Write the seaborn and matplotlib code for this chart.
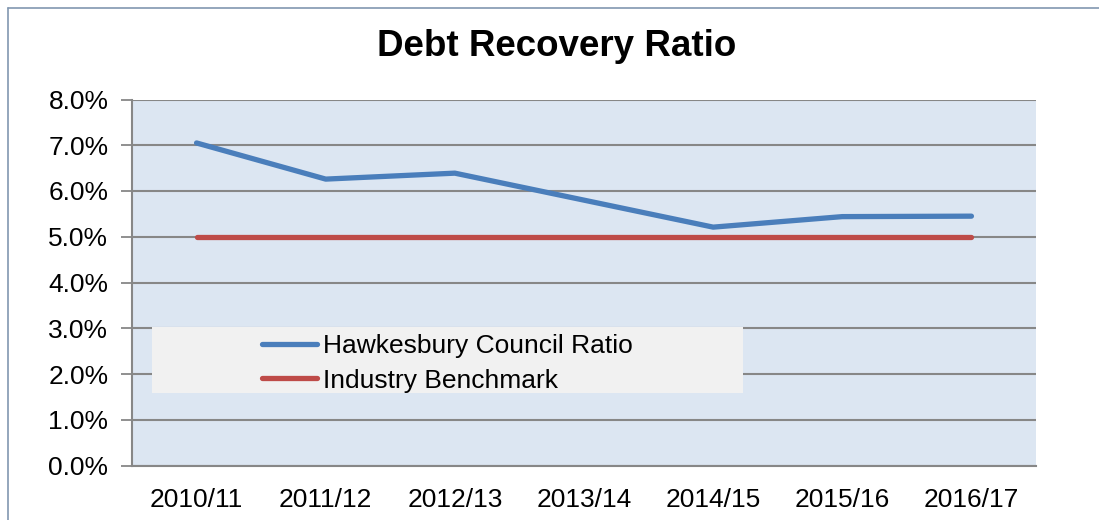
import matplotlib
matplotlib.use("Agg")
import matplotlib.pyplot as plt
from matplotlib.lines import Line2D
from matplotlib.patches import Rectangle
from matplotlib.ticker import FixedLocator, PercentFormatter
import pandas as pd
import seaborn as sns

# Financial years and ratios (percent)
years = ["2010/11", "2011/12", "2012/13", "2013/14", "2014/15", "2015/16", "2016/17"]
council_ratio = [7.05, 6.26, 6.39, 5.80, 5.21, 5.44, 5.45]
industry_benchmark = [5.0, 5.0, 5.0, 5.0, 5.0, 5.0, 5.0]
series_names = ["Hawkesbury Council Ratio", "Industry Benchmark"]
y_ticks = [0, 1, 2, 3, 4, 5, 6, 7, 8]

df = pd.DataFrame({
    "Year": years * 2,
    "Ratio": council_ratio + industry_benchmark,
    "Series": [series_names[0]] * len(years) + [series_names[1]] * len(years),
})

sns.set_theme(style="white")
plt.rcParams["font.family"] = ["Liberation Sans", "DejaVu Sans"]
plt.rcParams["text.color"] = "black"
plt.rcParams["xtick.color"] = "black"
plt.rcParams["ytick.color"] = "black"

BLUE = "#4a7ebb"
RED = "#be4b48"
GRID = "#878787"

fig = plt.figure(figsize=(10.99, 5.20), dpi=100)
ax = fig.add_axes([132 / 1099, 1 - 465.5 / 520, (1036 - 132) / 1099, (465.5 - 99.5) / 520])
ax.set_facecolor("#dce6f2")

sns.lineplot(data=df, x="Year", y="Ratio", hue="Series", sort=False,
             palette=[BLUE, RED], linewidth=3.8, ax=ax, legend=False,
             solid_capstyle="round", zorder=3)

ax.set_xlim(-0.5, len(years) - 0.5)
ax.set_ylim(0, 8)
ax.set_xlabel("")
ax.set_ylabel("")

# y axis: percent labels with gridlines
ax.yaxis.set_major_locator(FixedLocator(y_ticks))
ax.yaxis.set_major_formatter(PercentFormatter(decimals=1))
ax.grid(axis="y", color=GRID, linewidth=1.5, zorder=1)
ax.grid(axis="x", visible=False)
ax.set_axisbelow(True)

# x axis: labels at category centres, tick marks at category boundaries
ax.set_xticks(range(len(years)))
ax.set_xticklabels(years)
ax.set_xticks([i - 0.5 for i in range(len(years) + 1)], minor=True)
ax.tick_params(axis="x", which="major", length=0, pad=16, labelsize=19, labelcolor="black")
ax.tick_params(axis="x", which="minor", length=7, width=1.3, color=GRID, direction="out")
ax.tick_params(axis="y", which="major", length=8, width=1.3, color=GRID, direction="out",
               pad=9, labelsize=19, labelcolor="black", left=True)

for side in ("top", "right"):
    ax.spines[side].set_visible(False)
for side in ("left", "bottom"):
    ax.spines[side].set_color(GRID)
    ax.spines[side].set_linewidth(1.5)

# legend panel
ax.add_patch(Rectangle((152, 520 - 393), 591, 66, transform=None,
                       facecolor="#f1f1f1", edgecolor="none", zorder=4))
handles = [Line2D([], [], color=BLUE, linewidth=3.8, solid_capstyle="round"),
           Line2D([], [], color=RED, linewidth=3.8, solid_capstyle="round")]
leg = ax.legend(handles, series_names, loc="upper left",
                bbox_to_anchor=(262 / 1099, 1 - 334 / 520), bbox_transform=fig.transFigure,
                frameon=False, fontsize=19, handlelength=2.1, handletextpad=0.2,
                labelspacing=0.4, borderpad=0.0, borderaxespad=0.0)
leg.set_zorder(5)

fig.suptitle("Debt Recovery Ratio", x=557 / 1099, y=1 - 47 / 520, va="center",
             fontsize=26.5, fontweight="bold", color="black")

# outer chart frame
frame_color = "#8197b0"
fig.add_artist(Line2D([7.5 / 1099, 7.5 / 1099], [0, 1 - 7.5 / 520],
                      transform=fig.transFigure, color=frame_color, linewidth=1.2))
fig.add_artist(Line2D([7.5 / 1099, 1], [1 - 7.5 / 520, 1 - 7.5 / 520],
                      transform=fig.transFigure, color=frame_color, linewidth=1.2))

fig.savefig("out.png", dpi=100, facecolor="white")
